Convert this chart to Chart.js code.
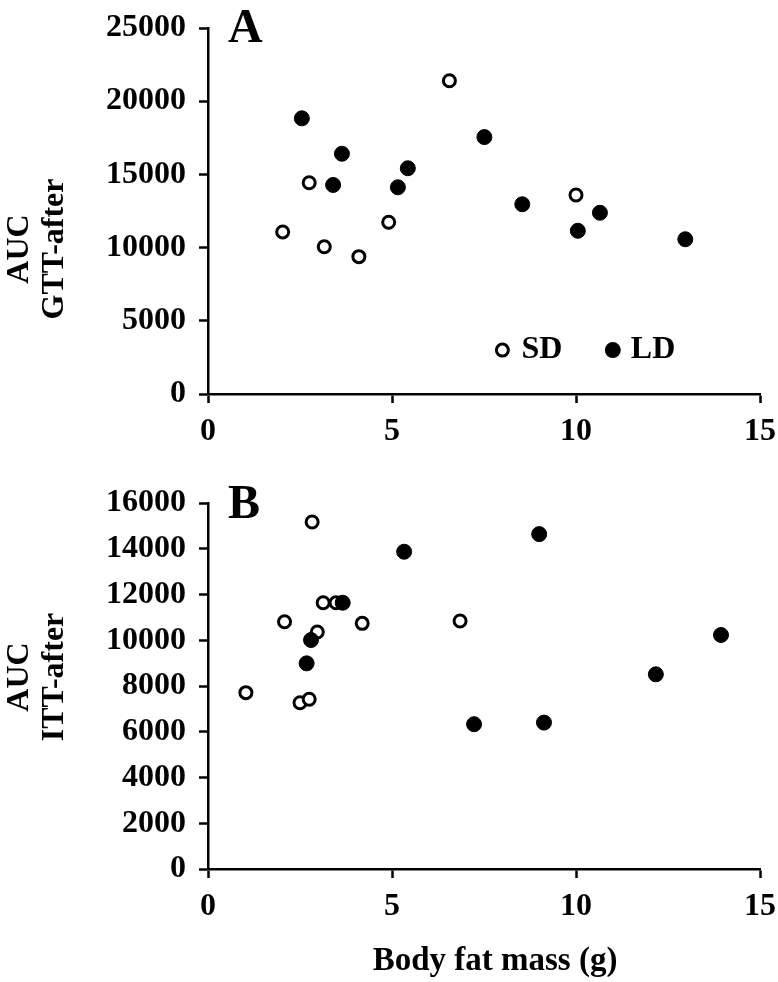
<!DOCTYPE html>
<html>
<head>
<meta charset="utf-8">
<script src="https://cdn.jsdelivr.net/npm/chart.js@4.4.1/dist/chart.umd.min.js"></script>
<style>
  html, body { margin: 0; padding: 0; background: #fff; }
  #wrap { position: relative; width: 778px; height: 982px; }
  canvas { position: absolute; left: 0; }
</style>
</head>
<body>
<div id="wrap">
  <canvas id="chartA" width="778" height="470" style="top:0"></canvas>
  <canvas id="chartB" width="778" height="512" style="top:470px"></canvas>
</div>
<script>
// Panel A - AUC GTT-after vs body fat mass
const sdFatA = [6.56, 2.75, 2.03, 3.16, 4.10, 4.91, 10.0];
const sdGttA = [21400, 14430, 11070, 10060, 9380, 11730, 13590];
const ldFatA = [2.55, 3.64, 3.40, 5.43, 5.16, 7.51, 8.54, 10.05, 10.65, 12.97];
const ldGttA = [18830, 16410, 14280, 15420, 14120, 17550, 12960, 11150, 12380, 10570];

// Panel B - AUC ITT-after vs body fat mass
const sdFatB = [2.83, 3.13, 3.48, 2.08, 4.19, 6.85, 2.97, 1.03, 2.50, 2.75];
const sdIttB = [15170, 11640, 11640, 10810, 10740, 10840, 10360, 7710, 7270, 7420];
const ldFatB = [5.33, 9.00, 3.66, 2.80, 2.68, 7.23, 9.13, 12.17, 13.94];
const ldIttB = [13870, 14640, 11640, 10010, 8990, 6330, 6400, 8510, 10230];

// axis ticks
const xTicks = [0, 5, 10, 15];
const yTicksA = [0, 5000, 10000, 15000, 20000, 25000];
const yTicksB = [0, 2000, 4000, 6000, 8000, 10000, 12000, 14000, 16000];

const serif = '"Liberation Serif", "Times New Roman", serif';

function pts(xs, ys) {
  return xs.map((x, i) => ({ x: x, y: ys[i] }));
}

function axis(tickVals, pad, fit) {
  return {
    type: 'linear',
    min: tickVals[0],
    max: tickVals[tickVals.length - 1],
    afterBuildTicks: s => { s.ticks = tickVals.map(v => ({ value: v })); },
    afterFit: fit,
    grid: { display: true, drawOnChartArea: false, drawTicks: true, tickLength: 9, tickWidth: 2.5, tickColor: '#000' },
    border: { display: true, color: '#000', width: 2.5 },
    ticks: {
      color: '#000',
      padding: pad,
      autoSkip: false,
      maxRotation: 0,
      font: { family: serif, size: 32, weight: 'bold' },
      callback: v => String(v)
    }
  };
}

// letters, y titles, legend, x title
const overlay = {
  id: 'overlay',
  afterDraw(chart, args, o) {
    const ctx = chart.ctx;
    ctx.save();
    ctx.fillStyle = '#000';
    ctx.textAlign = 'left';
    ctx.textBaseline = 'alphabetic';
    ctx.font = 'bold 48px ' + serif;
    ctx.fillText(o.letter, 228, o.letterY);

    if (o.legend) {
      const xs = chart.scales.x, ys = chart.scales.y;
      const ly = ys.getPixelForValue(3000);
      const x1 = xs.getPixelForValue(8), x2 = xs.getPixelForValue(11);
      ctx.lineWidth = 3;
      ctx.strokeStyle = '#000';
      ctx.beginPath(); ctx.arc(x1, ly, 6, 0, Math.PI * 2); ctx.fillStyle = '#fff'; ctx.fill(); ctx.stroke();
      ctx.fillStyle = '#000';
      ctx.beginPath(); ctx.arc(x2, ly, 8, 0, Math.PI * 2); ctx.fill();
      ctx.font = 'bold 32px ' + serif;
      ctx.textBaseline = 'middle';
      ctx.fillText('SD', x1 + 19, ly);
      ctx.fillText('LD', x2 + 18, ly);
    }

    if (o.xTitle) {
      ctx.font = 'bold 33px ' + serif;
      ctx.textAlign = 'center';
      ctx.textBaseline = 'alphabetic';
      ctx.fillText(o.xTitle, 495, o.xTitleY);
    }

    ctx.font = 'bold 32px ' + serif;
    ctx.textAlign = 'center';
    ctx.textBaseline = 'middle';
    ctx.translate(0, o.titleY);
    ctx.rotate(-Math.PI / 2);
    ctx.fillText(o.yTitle[0], 0, 20);
    ctx.fillText(o.yTitle[1], 0, 55);
    ctx.restore();
  }
};

function makeChart(id, sd, ld, yTicks, pad, ov) {
  return new Chart(document.getElementById(id), {
    type: 'scatter',
    data: {
      datasets: [
        { label: 'LD', data: ld, pointRadius: 7.5, pointBorderWidth: 1, pointBackgroundColor: '#000', pointBorderColor: '#000' },
        { label: 'SD', data: sd, pointRadius: 6, pointBorderWidth: 3, pointBackgroundColor: '#fff', pointBorderColor: '#000' }
      ]
    },
    options: {
      responsive: false,
      animation: false,
      layout: { padding: pad },
      plugins: { legend: { display: false }, tooltip: { enabled: false }, overlay: ov },
      scales: {
        x: axis(xTicks, 10, s => { s.height = 60; s.paddingLeft = 0; s.paddingRight = 0; }),
        y: axis(yTicks, 13, s => { s.width = 208; s.paddingTop = 0; s.paddingBottom = 0; })
      }
    },
    plugins: [overlay]
  });
}

makeChart('chartA', pts(sdFatA, sdGttA), pts(ldFatA, ldGttA), yTicksA,
  { top: 28, right: 18, bottom: 16, left: 0 },
  { letter: 'A', letterY: 42, legend: true, titleY: 249, yTitle: ['AUC', 'GTT-after'] });

makeChart('chartB', pts(sdFatB, sdIttB), pts(ldFatB, ldIttB), yTicksB,
  { top: 33, right: 18, bottom: 53, left: 0 },
  { letter: 'B', letterY: 48, legend: false, titleY: 207, yTitle: ['AUC', 'ITT-after'],
    xTitle: 'Body fat mass (g)', xTitleY: 500 });
</script>
</body>
</html>
